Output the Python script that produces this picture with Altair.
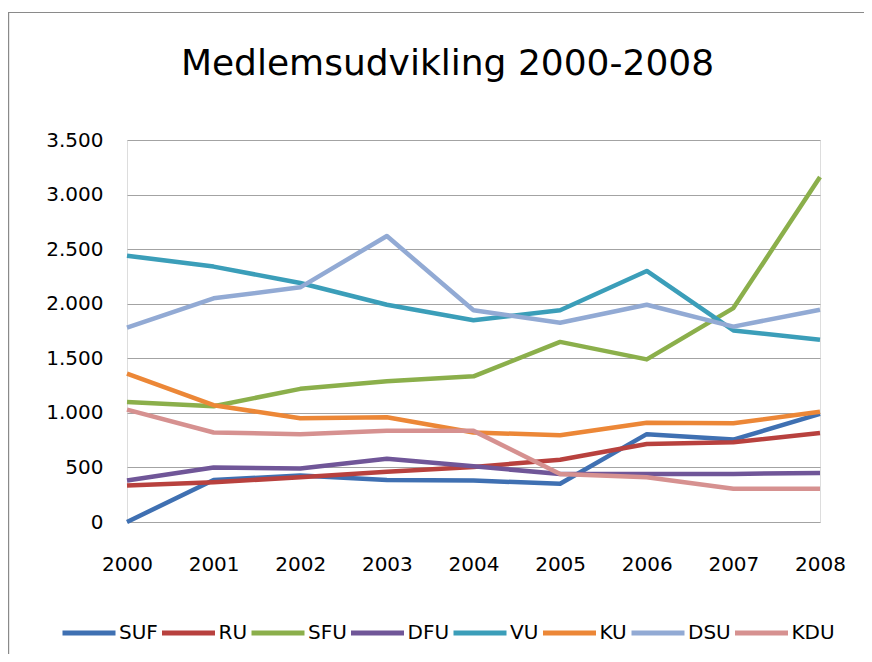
import altair as alt
import pandas as pd

years = ["2000", "2001", "2002", "2003", "2004", "2005", "2006", "2007", "2008"]
series = ["SUF", "RU", "SFU", "DFU", "VU", "KU", "DSU", "KDU"]
colors = ["#3F70B2", "#B8413E", "#8BAF4B", "#705698", "#3B9EB9", "#EC8737", "#92AAD4", "#D69190"]

SUF = [0, 385, 425, 385, 380, 350, 805, 755, 990]
RU = [335, 365, 410, 460, 505, 570, 715, 730, 815]
SFU = [1100, 1060, 1220, 1290, 1335, 1650, 1490, 1960, 3160]
DFU = [380, 500, 490, 580, 510, 440, 440, 440, 450]
VU = [2440, 2340, 2190, 1990, 1848, 1940, 2300, 1755, 1670]
KU = [1360, 1070, 950, 960, 820, 795, 910, 905, 1010]
DSU = [1780, 2050, 2150, 2620, 1940, 1825, 1990, 1790, 1945]
KDU = [1030, 820, 805, 835, 835, 440, 410, 305, 305]

values = [SUF, RU, SFU, DFU, VU, KU, DSU, KDU]
rows = []
for name, vals in zip(series, values):
    for y, v in zip(years, vals):
        rows.append({"Parti": name, "År": y, "Medlemmer": v})
df = pd.DataFrame(rows)

W, H = 693, 382
PL, PT = 119, 132
SVG_W, SVG_H = 856, 646

lines = alt.Chart(df).mark_line(strokeWidth=4.5, strokeJoin="round").encode(
    x=alt.X("År:O", sort=years, scale=alt.Scale(type="point", padding=0),
            axis=alt.Axis(title=None, labelAngle=0, grid=False, domain=False, ticks=False,
                          labelFont="DejaVu Sans", labelFontSize=20, labelColor="#000000",
                          labelPadding=32)),
    y=alt.Y("Medlemmer:Q", scale=alt.Scale(domain=[0, 3500], nice=False),
            axis=alt.Axis(title=None, values=[0, 500, 1000, 1500, 2000, 2500, 3000, 3500],
                          labelExpr="replace(format(datum.value, ','), ',', '.')",
                          grid=True, gridColor="#A3A3A3", gridWidth=1.2,
                          domain=False, ticks=False, tickSize=0,
                          labelFont="DejaVu Sans", labelFontSize=20, labelColor="#000000",
                          labelPadding=24)),
    color=alt.Color("Parti:N", sort=series, scale=alt.Scale(domain=series, range=colors),
                    legend=alt.Legend(title=None, orient="none", direction="horizontal",
                                      columns=8, gridAlign="none", legendX=-67, legendY=464,
                                      symbolType="stroke", symbolSize=2809, symbolStrokeWidth=5,
                                      labelFont="DejaVu Sans", labelFontSize=20,
                                      labelColor="#000000", labelOffset=1, columnPadding=-6.5)),
    order=alt.Order("År:O"),
)

border_df = pd.DataFrame({"k": [0]})
top_border = alt.Chart(border_df).mark_rule(color="#8A8A8A", strokeWidth=1.2).encode(
    x=alt.value(-PL), x2=alt.value(SVG_W - PL), y=alt.value(4.5 - PT))
left_border = alt.Chart(border_df).mark_rule(color="#8A8A8A", strokeWidth=1.2).encode(
    x=alt.value(-PL + 0.6), y=alt.value(4.5 - PT), y2=alt.value(SVG_H - PT))

chart = alt.layer(top_border, left_border, lines).properties(
    width=W, height=H,
    title=alt.TitleParams("Medlemsudvikling 2000-2008", font="DejaVu Sans", fontSize=36,
                          fontWeight="normal", color="#000000", anchor="middle",
                          frame="group", baseline="alphabetic", dx=-26, offset=-99),
    autosize=alt.AutoSizeParams(type="none"),
    padding={"left": PL, "top": PT, "right": SVG_W - PL - W, "bottom": SVG_H - PT - H},
).configure_view(stroke=None).configure(background="white")

chart.save("out.html", embed_options={"renderer": "svg", "actions": False})
